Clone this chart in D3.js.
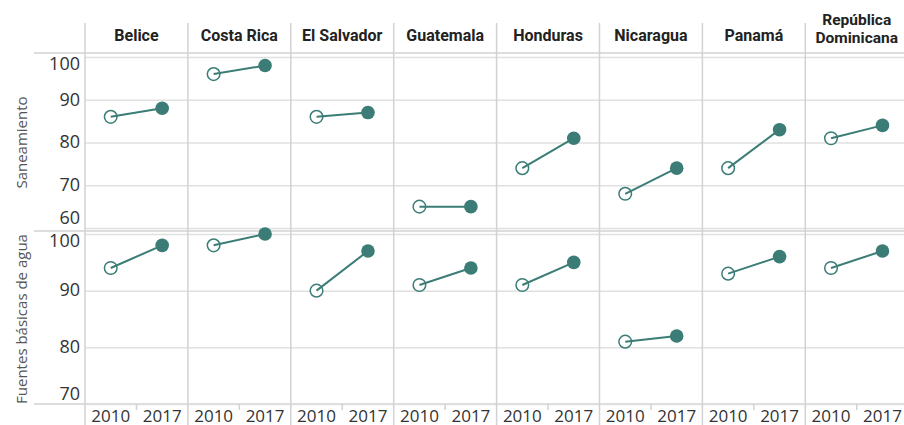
<!DOCTYPE html>
<html>
<head>
<meta charset="utf-8">
<script src="https://cdn.jsdelivr.net/npm/d3@7"></script>
<style>
    body { margin: 0; background: #fff; }
    svg { display: block; }
</style>
</head>
<body>
<div id="chart"></div>
<script>
const countries = ["Belice", "Costa Rica", "El Salvador", "Guatemala", "Honduras", "Nicaragua", "Panamá", "República Dominicana"];
const years = ["2010", "2017"];
const rowNames = ["Saneamiento", "Fuentes básicas de agua"];
const saneamiento2010 = [86, 96, 86, 65, 74, 68, 74, 81];
const saneamiento2017 = [88, 98, 87, 65, 81, 74, 83, 84];
const agua2010 = [94, 98, 90, 91, 91, 81, 93, 94];
const agua2017 = [98, 100, 97, 94, 95, 82, 96, 97];
const saneamientoTicks = [60, 70, 80, 90, 100];
const aguaTicks = [70, 80, 90, 100];

const width = 904;
const height = 425;
const teal = "#3b7d76";
const gridColor = "#e0e0e0";
const lineColor = "#d2d2d2";
const tickFont = "'Open Sans', sans-serif";

const rows = [
    { name: rowNames[0], a: saneamiento2010, b: saneamiento2017, ticks: saneamientoTicks, top: 57, bottom: 228 },
    { name: rowNames[1], a: agua2010, b: agua2017, ticks: aguaTicks, top: 234, bottom: 404 }
];

const svg = d3.select("#chart").append("svg")
    .attr("width", width)
    .attr("height", height);

const x = d3.scaleBand()
    .domain(countries)
    .range([85, 85 + 8 * 102.9])
    .padding(0);

const xYear = d3.scaleBand()
    .domain(years)
    .range([0, x.bandwidth()])
    .padding(0);

// horizontal dividers across label area
[53, 231, 404].forEach(yy => {
    svg.append("line")
        .attr("x1", 34).attr("x2", width)
        .attr("y1", yy).attr("y2", yy)
        .attr("stroke", lineColor)
        .attr("stroke-width", 1.5);
});

rows.forEach(row => {
    const y = d3.scaleLinear()
        .domain([d3.min(row.ticks), d3.max(row.ticks)])
        .range([row.bottom, row.top]);

    // gridlines
    svg.append("g")
        .attr("transform", `translate(${x.range()[0]},0)`)
        .call(d3.axisLeft(y).tickValues(row.ticks).tickSize(-(x.range()[1] - x.range()[0])).tickFormat(""))
        .call(g => g.select(".domain").remove())
        .call(g => g.selectAll(".tick line").attr("stroke", gridColor).attr("stroke-width", 1.5));

    // y labels, kept inside the pane
    const yAxis = svg.append("g")
        .attr("transform", `translate(80,0)`)
        .call(d3.axisLeft(y).tickValues(row.ticks).tickSize(0).tickPadding(0))
        .call(g => g.select(".domain").remove());
    yAxis.selectAll(".tick")
        .attr("transform", d => `translate(0,${Math.max(row.top + 7, Math.min(row.bottom - 10, y(d)))})`);
    yAxis.selectAll(".tick text")
        .attr("font-family", tickFont)
        .attr("font-size", 18)
        .attr("fill", "#333");

    svg.append("text")
        .attr("transform", `translate(27,${(row.top + row.bottom) / 2}) rotate(-90)`)
        .attr("text-anchor", "middle")
        .attr("font-family", tickFont)
        .attr("font-size", 15)
        .attr("fill", "#555")
        .text(row.name);

    const pts = countries.map((c, i) => ({ country: c, a: row.a[i], b: row.b[i] }));
    const cx = (d, yr) => x(d.country) + xYear(yr) + xYear.bandwidth() / 2;

    const g = svg.append("g");
    g.selectAll("circle.open")
        .data(pts)
        .enter().append("circle")
        .attr("class", "open")
        .attr("cx", d => cx(d, years[0]))
        .attr("cy", d => y(d.a))
        .attr("r", 6.3)
        .attr("fill", "#fff")
        .attr("stroke", teal)
        .attr("stroke-width", 1.5);

    g.selectAll("line")
        .data(pts)
        .enter().append("line")
        .attr("x1", d => cx(d, years[0]))
        .attr("y1", d => y(d.a))
        .attr("x2", d => cx(d, years[1]))
        .attr("y2", d => y(d.b))
        .attr("stroke", teal)
        .attr("stroke-width", 2);

    g.selectAll("circle.filled")
        .data(pts)
        .enter().append("circle")
        .attr("class", "filled")
        .attr("cx", d => cx(d, years[1]))
        .attr("cy", d => y(d.b))
        .attr("r", 6.8)
        .attr("fill", teal);
});

// column separators
svg.append("g")
    .selectAll("line")
    .data(countries)
    .enter().append("line")
    .attr("x1", d => x(d)).attr("x2", d => x(d))
    .attr("y1", 23).attr("y2", height)
    .attr("stroke", lineColor)
    .attr("stroke-width", 1.5);

// column headers
const headers = svg.append("g")
    .selectAll("text")
    .data(countries)
    .enter().append("text")
    .attr("x", d => x(d) + x.bandwidth() / 2)
    .attr("y", 41)
    .attr("text-anchor", "middle")
    .attr("font-family", "Roboto, sans-serif")
    .attr("font-weight", 700)
    .attr("font-size", 16)
    .attr("fill", "#222")
    .text(d => d);

// long names wrap onto two lines
headers.each(function (d) {
    const t = d3.select(this);
    if (this.getComputedTextLength() > x.bandwidth() - 6) {
        const words = d.split(" ");
        t.text(null).attr("font-size", 15.5);
        words.forEach((w, i) => {
            t.append("tspan")
                .attr("x", x(d) + x.bandwidth() / 2)
                .attr("y", 24.5 + i * 18.2)
                .text(w);
        });
    }
});

// year axis under each column
countries.forEach(c => {
    const xa = svg.append("g")
        .attr("transform", `translate(${x(c)},404)`)
        .call(d3.axisBottom(xYear).tickSize(0).tickPadding(0))
        .call(g => g.select(".domain").remove());
    xa.selectAll(".tick text")
        .attr("y", 17.5)
        .attr("dy", 0)
        .attr("font-family", tickFont)
        .attr("font-size", 17)
        .attr("fill", "#333");
    xa.append("line")
        .attr("x1", xYear(years[1])).attr("x2", xYear(years[1]))
        .attr("y1", 0).attr("y2", 6)
        .attr("stroke", lineColor)
        .attr("stroke-width", 1.5);
});
</script>
</body>
</html>
